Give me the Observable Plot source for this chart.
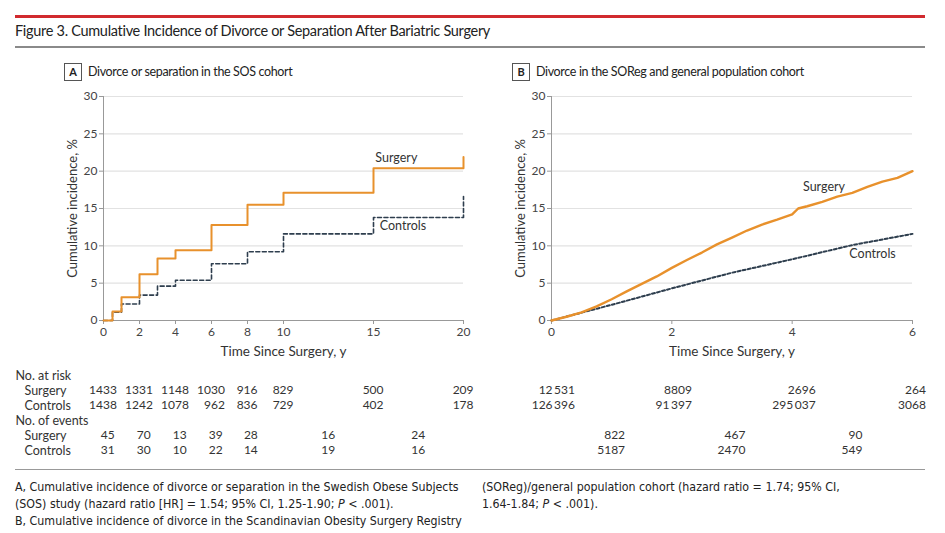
<!DOCTYPE html>
<html>
<head>
<meta charset="utf-8">
<script src="https://cdn.jsdelivr.net/npm/d3@7"></script>
<script src="https://cdn.jsdelivr.net/npm/@observablehq/plot@0.6"></script>
<style>
  html, body { margin: 0; padding: 0; background: #fff; }
  #root { position: relative; width: 945px; height: 533px; overflow: hidden; font-family: Lato, "Noto Sans", sans-serif; color: #222; }
  .abs { position: absolute; }
  #redline { left: 15px; top: 15px; width: 910px; height: 3px; background: #d12a2f; }
  #title { left: 15px; top: 22px; font-size: 14.5px; letter-spacing: -0.3px; white-space: nowrap; color: #222; }
  #grayline { left: 15px; top: 46px; width: 910px; height: 1.5px; background: #8a8a8a; }
  .ptitle { font-size: 12.5px; letter-spacing: -0.35px; white-space: nowrap; color: #222; }
  .pbox { display: inline-block; border: 1px solid #555; width: 16px; height: 16px; line-height: 16px; text-align: center; font-weight: 700; font-size: 11px; letter-spacing: 0; margin-right: 6px; }
  #capline { left: 15px; top: 469px; width: 910px; height: 1px; background: #999; }
  .cap { font-family: "Liberation Sans Narrow", "DejaVu Sans Condensed", Lato, sans-serif; font-size: 12.3px; line-height: 17px; white-space: nowrap; color: #222; }
</style>
</head>
<body>
<div id="root">
  <div id="redline" class="abs"></div>
  <div id="title" class="abs">Figure 3. Cumulative Incidence of Divorce or Separation After Bariatric Surgery</div>
  <div id="grayline" class="abs"></div>
  <div id="plotA" class="abs" style="left:0px; top:80px;"></div>
  <div id="plotB" class="abs" style="left:470px; top:80px;"></div>
  <div class="abs ptitle" style="left:64px; top:63px;"><span class="pbox">A</span>Divorce or separation in the SOS cohort</div>
  <div class="abs ptitle" style="left:512px; top:63px;"><span class="pbox">B</span>Divorce in the SOReg and general population cohort</div>
  <div id="tableA" class="abs" style="left:0px; top:366px;"></div>
  <div id="tableB" class="abs" style="left:470px; top:366px;"></div>
  <div id="capline" class="abs"></div>
  <div class="abs cap" style="left:15px; top:479px;">A, Cumulative incidence of divorce or separation in the Swedish Obese Subjects<br>(SOS) study (hazard ratio [HR] = 1.54; 95% CI, 1.25-1.90; <i>P</i> &lt; .001).<br>B, Cumulative incidence of divorce in the Scandinavian Obesity Surgery Registry</div>
  <div class="abs cap" style="left:482px; top:479px;">(SOReg)/general population cohort (hazard ratio = 1.74; 95% CI,<br>1.64-1.84; <i>P</i> &lt; .001).</div>
</div>
<script>
// ---------- Data ----------
// Panel A: SOS cohort (Kaplan-Meier style step curves)
const timeA = [0, 0.5, 1, 2, 3, 4, 6, 8, 10, 15, 20];
const surgeryA = [0, 1.2, 3.1, 6.2, 8.3, 9.4, 12.8, 15.5, 17.1, 20.4, 21.9];
const controlsA = [0, 1.1, 2.2, 3.4, 4.6, 5.4, 7.6, 9.2, 11.6, 13.8, 16.6];
const xTicksA = [0, 2, 4, 6, 8, 10, 15, 20];

// Panel B: SOReg / general population cohort
const timeBS = [0, 0.25, 0.5, 0.75, 1, 1.25, 1.5, 1.75, 2, 2.25, 2.5, 2.75, 3, 3.25, 3.5, 3.75, 4, 4.1, 4.25, 4.5, 4.75, 5, 5.25, 5.5, 5.75, 6];
const surgeryB = [0, 0.5, 1.1, 1.9, 2.85, 3.9, 4.9, 5.9, 7.05, 8.1, 9.1, 10.2, 11.1, 12.05, 12.85, 13.5, 14.2, 15.0, 15.3, 15.9, 16.6, 17.1, 17.9, 18.6, 19.1, 20.0];
const timeBC = [0, 1, 2, 3, 4, 5, 6];
const controlsB = [0, 2.1, 4.3, 6.4, 8.2, 10.1, 11.6];
const xTicksB = [0, 2, 4, 6];
const yTicks = [0, 5, 10, 15, 20, 25, 30];

// Series labels (annotation anchor in data units)
const labelsA = [{t: 15.1, v: 21.8, text: "Surgery"}, {t: 15.35, v: 12.6, text: "Controls"}];
const labelsB = [{t: 4.18, v: 17.9, text: "Surgery"}, {t: 4.95, v: 8.85, text: "Controls"}];

// Risk tables
const riskTimeA = [0, 2, 4, 6, 8, 10, 15, 20];
const riskSurgeryA = [1433, 1331, 1148, 1030, 916, 829, 500, 209];
const riskControlsA = [1438, 1242, 1078, 962, 836, 729, 402, 178];
const eventTimeA = [0.25, 2.25, 4.25, 6.25, 8.2, 12.5, 17.5];
const eventSurgeryA = [45, 70, 13, 39, 28, 16, 24];
const eventControlsA = [31, 30, 10, 22, 14, 19, 16];

const riskTimeB = [0, 2, 4, 6];
const riskSurgeryB = [12531, 8809, 2696, 264];
const riskControlsB = [126396, 91397, 295037, 3068];
const eventTimeB = [1, 3, 5];
const eventSurgeryB = [822, 467, 90];
const eventControlsB = [5187, 2470, 549];

const rowNames = ["No. at risk", "risk Surgery", "risk Controls", "No. of events", "event Surgery", "event Controls"];

// ---------- Styles ----------
const ORANGE = "#e8912c";
const SLATE = "#2e3e4e";
const FONT = "Lato, 'Noto Sans', sans-serif";

function fmt(n) {
  if (n >= 10000) return d3.format(",")(n).replace(/,/g, "\u2009");
  return String(n);
}

function curvePlot({timeS, valS, timeC, valC, xDomain, xTicks, labels, width, marginLeft, marginRight, stepped}) {
  const S = timeS.map((t, i) => ({t, v: valS[i]}));
  const C = timeC.map((t, i) => ({t, v: valC[i]}));
  return Plot.plot({
    width, height: 280,
    marginLeft, marginRight, marginTop: 16, marginBottom: 40,
    style: {fontFamily: FONT, fontSize: "12px", color: "#333", background: "transparent", overflow: "visible"},
    x: {domain: xDomain},
    y: {domain: [0, 30]},
    marks: [
      Plot.gridY(yTicks.filter(d => d > 0), {stroke: "#e2e2e2", strokeOpacity: 1, strokeWidth: 1.2}),
      Plot.ruleX([xDomain[0]], {stroke: "#999", strokeWidth: 1}),
      Plot.ruleY([0], {stroke: "#999", strokeWidth: 1}),
      Plot.axisY({ticks: yTicks, tickSize: 4, tickPadding: 2, stroke: "#999", label: null, fill: "#444", fontSize: 12}),
      Plot.axisX({ticks: xTicks, tickFormat: d3.format("d"), tickSize: 4, tickPadding: 3, stroke: "#999", label: null, fill: "#444", fontSize: 12}),
      Plot.text(["Time Since Surgery, y"], {frameAnchor: "bottom", textAnchor: "middle", dy: 35, fill: "#333", fontSize: 13.5}),
      Plot.text(["Cumulative incidence, %"], {frameAnchor: "left", textAnchor: "middle", lineAnchor: "middle", rotate: -90, dx: -31, fill: "#333", fontSize: 13}),
      Plot.line(C, {x: "t", y: "v", curve: stepped ? "step-after" : "linear", stroke: SLATE, strokeWidth: stepped ? 1.6 : 2, strokeDasharray: stepped ? "4,2.5" : "3,2.2"}),
      Plot.line(S, {x: "t", y: "v", curve: stepped ? "step-after" : "linear", stroke: ORANGE, strokeWidth: stepped ? 2 : 2.4}),
      Plot.text(labels, {x: "t", y: "v", text: "text", textAnchor: "start", fill: "#333", fontSize: 12.5})
    ]
  });
}

function tablePlot({riskTime, riskS, riskC, eventTime, eventS, eventC, xDomain, width, marginLeft, marginRight, rowLabels}) {
  const digitW = 6.7;
  const marks = [];
  const addCols = (times, sArr, cArr, rowS, rowC) => {
    times.forEach((t, i) => {
      const a = fmt(sArr[i]), b = fmt(cArr[i]);
      const w = Math.max(a.length, b.length) * digitW;
      marks.push(Plot.text([{t, row: rowS, s: a}, {t, row: rowC, s: b}], {x: "t", y: "row", text: "s", textAnchor: "end", dx: w / 2, fill: "#333", fontSize: 12}));
    });
  };
  addCols(riskTime, riskS, riskC, rowNames[1], rowNames[2]);
  addCols(eventTime, eventS, eventC, rowNames[4], rowNames[5]);
  if (rowLabels) {
    marks.push(Plot.text([{row: rowNames[0], s: "No. at risk"}, {row: rowNames[3], s: "No. of events"}], {y: "row", text: "s", frameAnchor: "left", textAnchor: "start", dx: 15 - marginLeft, fill: "#333", fontSize: 12.5}));
    marks.push(Plot.text([{row: rowNames[1], s: "Surgery"}, {row: rowNames[2], s: "Controls"}, {row: rowNames[4], s: "Surgery"}, {row: rowNames[5], s: "Controls"}], {y: "row", text: "s", frameAnchor: "left", textAnchor: "start", dx: 24 - marginLeft, fill: "#333", fontSize: 12.5}));
  }
  return Plot.plot({
    width, height: 95, marginLeft, marginRight, marginTop: 9, marginBottom: 11,
    style: {fontFamily: FONT, fontSize: "12px", color: "#333", background: "transparent", overflow: "visible"},
    x: {domain: xDomain, axis: null},
    y: {type: "point", domain: rowNames, padding: 0, axis: null},
    marks
  });
}

document.getElementById("plotA").append(curvePlot({
  timeS: timeA, valS: surgeryA, timeC: timeA, valC: controlsA,
  xDomain: [0, 20], xTicks: xTicksA, labels: labelsA, width: 480, marginLeft: 103, marginRight: 17, stepped: true
}));
document.getElementById("plotB").append(curvePlot({
  timeS: timeBS, valS: surgeryB, timeC: timeBC, valC: controlsB,
  xDomain: [0, 6], xTicks: xTicksB, labels: labelsB, width: 475, marginLeft: 81, marginRight: 33, stepped: false
}));
document.getElementById("tableA").append(tablePlot({
  riskTime: riskTimeA, riskS: riskSurgeryA, riskC: riskControlsA,
  eventTime: eventTimeA, eventS: eventSurgeryA, eventC: eventControlsA,
  xDomain: [0, 20], width: 480, marginLeft: 103, marginRight: 17, rowLabels: true
}));
document.getElementById("tableB").append(tablePlot({
  riskTime: riskTimeB, riskS: riskSurgeryB, riskC: riskControlsB,
  eventTime: eventTimeB, eventS: eventSurgeryB, eventC: eventControlsB,
  xDomain: [0, 6], width: 475, marginLeft: 81, marginRight: 33, rowLabels: false
}));
</script>
</body>
</html>
